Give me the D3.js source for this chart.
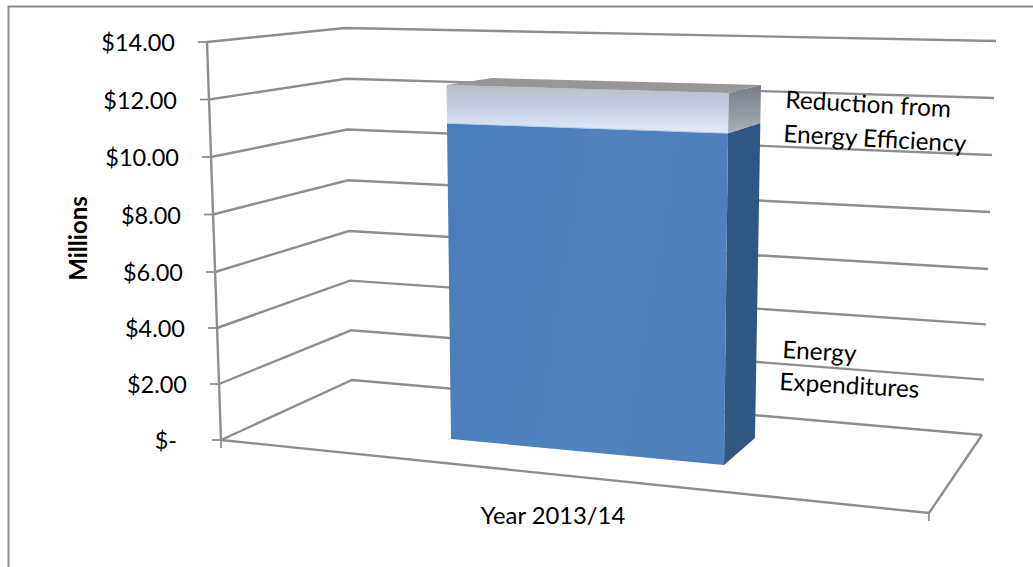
<!DOCTYPE html>
<html>
<head>
<meta charset="utf-8">
<title>Energy expenditures 2013/14</title>
<script src="https://cdn.jsdelivr.net/npm/d3@7"></script>
<style>
  html, body { margin: 0; padding: 0; background: #fff; }
  svg { display: block; }
  text { font-family: Lato, "Open Sans", sans-serif; fill: #000; }
</style>
</head>
<body>
<div id="chart"></div>
<script>
// Chart values, in millions of dollars
const axisValues = [0, 2, 4, 6, 8, 10, 12, 14];
const tickLabels = ["$-", "$2.00", "$4.00", "$6.00", "$8.00", "$10.00", "$12.00", "$14.00"];
const category = "Year 2013/14";
const energyExpenditures = 11.15;
const efficiencyReduction = 1.35;
const axisTitle = "Millions";
const reductionLabel = ["Reduction from", "Energy Efficiency"];
const expenditureLabel = ["Energy", "Expenditures"];

const width = 1033, height = 567;
const gridColor = "#8e8e8e";

const svg = d3.select("#chart").append("svg")
  .attr("width", width).attr("height", height);

// Each vertical edge of the 3-D box gets its own projection from value to screen
const edge = (x0, x1, y0, yMid, y1) => ({
  x: d3.scaleLinear().domain([0, 14]).range([x0, x1]),
  y: d3.scaleLinear().domain([0, 6, 14]).range([y0, yMid, y1])
});
const wallFront = edge(221, 207, 440, 272, 42);
const wallCorner = edge(352, 345, 380, 231, 28);
const wallRight = edge(982, 996, 435, 269, 41);

// Floor: the front-right corner follows the category axis
const floorFrontRight = { x: d3.scaleLinear().domain([0, 1]).range([221, 929]),
                          y: d3.scaleLinear().domain([0, 1]).range([440, 513]) };

const total = energyExpenditures + efficiencyReduction;
const barEdge = (x0, x1, y0, y1) => ({
  x: d3.scaleLinear().domain([0, total]).range([x0, x1]),
  y: d3.scaleLinear().domain([0, total]).range([y0, y1])
});
const barFrontLeft = barEdge(451, 446.5, 439, 85);
const barFrontRight = barEdge(724, 728.5, 465, 93);
const barBackRight = barEdge(755, 761, 438, 85);
const barBackLeft = barEdge(482, 492, 412, 78);

const pt = (e, v) => [e.x(v), e.y(v)];
const line = d3.line();

// Gradients for the shaded faces
const defs = svg.append("defs");
function gradient(id, stops, x2 = 0, y2 = 1) {
  const g = defs.append("linearGradient").attr("id", id)
    .attr("x1", 0).attr("y1", 0).attr("x2", x2).attr("y2", y2);
  stops.forEach(([o, c]) => g.append("stop").attr("offset", o).attr("stop-color", c));
}
gradient("reductionFront", [[0, "#b9bcc5"], [0.45, "#c4cee2"], [1, "#e4ebf7"]]);
gradient("reductionSide", [[0, "#767c85"], [1, "#aab0b8"]]);
gradient("energyFront", [[0, "#4a7dbb"], [0.6, "#4f82bf"], [1, "#4e80bd"]], 1, 0.2);
gradient("energySide", [[0, "#2f5687"], [1, "#31587f"]]);

// Outer chart frame, open past the window's right and bottom edges
svg.append("rect")
  .attr("x", 8.5).attr("y", 6.5)
  .attr("width", width + 20).attr("height", height + 20)
  .attr("fill", "none").attr("stroke", "#8c8c8c").attr("stroke-width", 2);

// Gridlines run along the side wall and then the back wall
svg.append("g").selectAll("path").data(axisValues).join("path")
  .attr("d", v => line([pt(wallFront, v), pt(wallCorner, v), pt(wallRight, v)]))
  .attr("fill", "none").attr("stroke", gridColor).attr("stroke-width", 2.4);

// Value axis, with its ticks
svg.append("path")
  .attr("d", line([pt(wallFront, 14), pt(wallFront, 0)]))
  .attr("fill", "none").attr("stroke", gridColor).attr("stroke-width", 2.4);
svg.append("g").selectAll("path").data(axisValues).join("path")
  .attr("d", v => line([[wallFront.x(v) - 9, wallFront.y(v)], pt(wallFront, v)]))
  .attr("stroke", gridColor).attr("stroke-width", 1.8);

// Floor outline and category axis ticks
const fl = floorFrontRight;
svg.append("path")
  .attr("d", line([[fl.x(0), fl.y(0)], [fl.x(1), fl.y(1)], pt(wallRight, 0)]))
  .attr("fill", "none").attr("stroke", gridColor).attr("stroke-width", 2.4);
[0, 1].forEach(t => svg.append("path")
  .attr("d", line([[fl.x(t), fl.y(t)], [fl.x(t), fl.y(t) + 8]]))
  .attr("stroke", gridColor).attr("stroke-width", 1.8));

// Stacked column: each segment has a front and a right side face
const segments = [
  { from: 0, to: energyExpenditures, front: "energyFront", side: "energySide" },
  { from: energyExpenditures, to: total, front: "reductionFront", side: "reductionSide" }
];
const closed = pts => line(pts) + "Z";
const bar = svg.append("g");
bar.selectAll(".side").data(segments).join("path").attr("class", "side")
  .attr("d", s => closed([pt(barFrontRight, s.from), pt(barBackRight, s.from),
                          pt(barBackRight, s.to), pt(barFrontRight, s.to)]))
  .attr("fill", s => `url(#${s.side})`);
bar.selectAll(".front").data(segments).join("path").attr("class", "front")
  .attr("d", s => closed([pt(barFrontLeft, s.from), pt(barFrontRight, s.from),
                          pt(barFrontRight, s.to), pt(barFrontLeft, s.to)]))
  .attr("fill", s => `url(#${s.front})`);
bar.append("path")
  .attr("d", closed([pt(barFrontLeft, total), pt(barBackLeft, total),
                     pt(barBackRight, total), pt(barFrontRight, total)]))
  .attr("fill", "#979797");
bar.append("path")
  .attr("d", line([pt(barFrontLeft, energyExpenditures), pt(barFrontRight, energyExpenditures)]))
  .attr("stroke", "#a9cdf0").attr("stroke-width", 1);

// Value labels, right-aligned beside the slanting axis
svg.append("g").selectAll("text").data(axisValues).join("text")
  .attr("x", v => wallFront.x(v) - (v === 0 ? 44 : 32))
  .attr("y", v => wallFront.y(v) + 9)
  .attr("text-anchor", "end")
  .attr("font-size", 23.5)
  .text((v, i) => tickLabels[i]);

svg.append("text")
  .attr("transform", "translate(87,238.5) rotate(-90)")
  .attr("text-anchor", "middle")
  .attr("font-size", 24).attr("font-weight", 700)
  .text(axisTitle);

svg.append("text")
  .attr("x", 553).attr("y", 524)
  .attr("text-anchor", "middle")
  .attr("font-size", 23.8)
  .text(category);

// Series labels follow the tilt of the back wall
const seriesLabel = (lines, placements) => lines.forEach((t, i) => {
  svg.append("text")
    .attr("transform", `translate(${placements[i][0]},${placements[i][1]}) rotate(3.2)`)
    .attr("font-size", 24.4)
    .text(t);
});
seriesLabel(reductionLabel, [[785, 108], [783, 142]]);
seriesLabel(expenditureLabel, [[782, 358], [779, 390]]);
</script>
</body>
</html>
